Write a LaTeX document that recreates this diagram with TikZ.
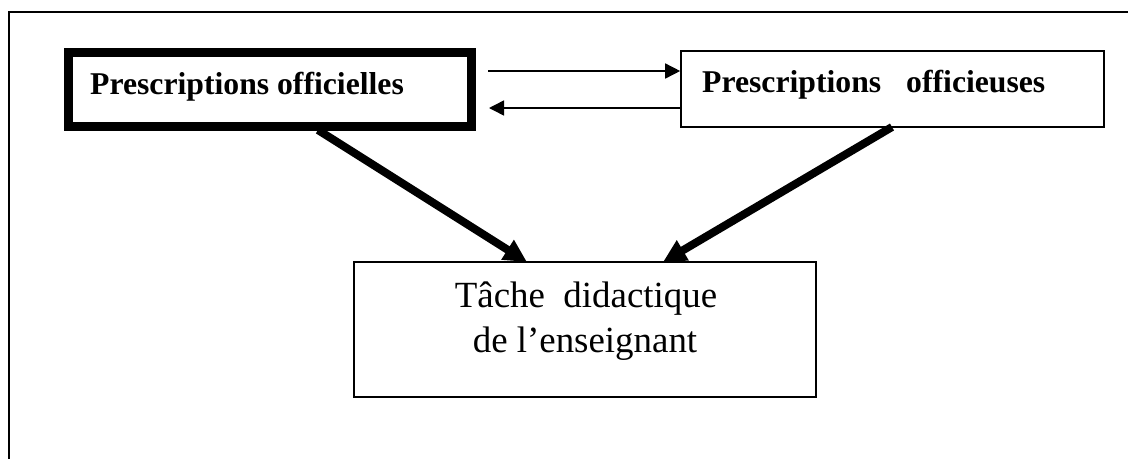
\documentclass[tikz,border=0pt]{standalone}
\usepackage{fontspec}
\setmainfont{Liberation Serif}
\usetikzlibrary{arrows.meta}
\begin{document}
\begin{tikzpicture}[x=1pt,y=-1pt,
  box/.style={draw, rectangle, inner sep=0pt, line width=1.6pt},
  thickbox/.style={draw, rectangle, inner sep=0pt, line width=9pt},
  thinarrow/.style={line width=1.5pt, -{Triangle[length=15pt,width=15pt]}},
  thickarrow/.style={line width=8pt, -{Triangle[length=23pt,width=22pt]}},
  boldlbl/.style={inner sep=0pt, anchor=base west, font=\fontsize{31.7}{38}\selectfont\bfseries},
  biglbl/.style={inner sep=0pt, anchor=base, font=\fontsize{36.9}{45}\selectfont}]
\useasboundingbox (0,0) rectangle (1128,459);
% outer frame (cut by page on right and bottom)
\draw[line width=1.2pt] (1128,12) -- (9,12) -- (9,459);
% boxes
\node[thickbox, minimum width=403pt, minimum height=74.5pt] (L) at (269.5,89.25) {};
\node[box, minimum width=423pt, minimum height=76pt] (R) at (892.5,89) {};
\node[box, minimum width=462pt, minimum height=135pt] (B) at (585,329.5) {};
% texts
\node[boldlbl] (tL) at (90,94) {Prescriptions officielles};
\node[boldlbl] (tR) at (702,92) {Prescriptions\hspace{25pt}officieuses};
\node[biglbl] (tB1) at (586,307) {Tâche\hspace{18.5pt}didactique};
\node[biglbl] (tB2) at (585,352) {de l’enseignant};
% thin arrows between the top boxes
\coordinate (a1) at (488,71);
\coordinate (a2) at (489,108);
\draw[thinarrow] (a1) -- (a1 -| R.west);
\draw[thinarrow] (a2 -| R.west) -- (a2);
% thick arrows to the bottom box
\coordinate (p1) at (318,130);
\coordinate (q1) at (527,262);
\coordinate (p2) at (892,127);
\coordinate (q2) at (663,262);
\draw[thickarrow] (p1) -- (q1);
\draw[thickarrow] (p2) -- (q2);
\end{tikzpicture}
\end{document}
